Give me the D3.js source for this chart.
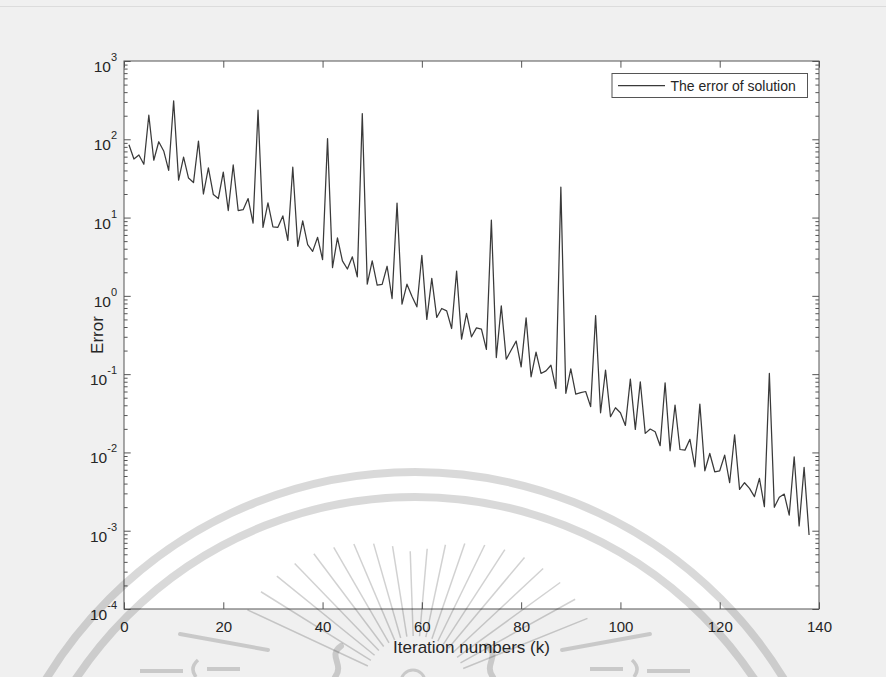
<!DOCTYPE html>
<html>
<head>
<meta charset="utf-8">
<script src="https://cdn.jsdelivr.net/npm/d3@7"></script>
<style>
html, body { margin: 0; padding: 0; background: #f0f0f0; }
svg { display: block; font-family: "Liberation Sans", Arial, Helvetica, sans-serif; }
</style>
</head>
<body>
<svg id="chart" width="886" height="677"></svg>
<script>
// Error of the solution at each iteration k = 1..138
const errors = [
  85, 56, 63, 48, 203, 54, 93, 71, 40, 310,
  30, 59, 32, 28, 95, 20, 43, 19.7, 17.5, 38,
  12.3, 47, 12.3, 12.6, 17.5, 8.5, 235, 7.5, 15.4, 7.6,
  7.5, 10.5, 5.1, 44, 4.3, 9.1, 4.5, 3.7, 5.6, 2.9,
  102, 2.3, 5.5, 2.8, 2.2, 3.15, 1.75, 213, 1.41, 2.8,
  1.37, 1.40, 2.39, 0.925, 15.3, 0.783, 1.41, 0.99, 0.724, 3.3,
  0.50, 1.67, 0.53, 0.69, 0.644, 0.383, 2.07, 0.28, 0.596, 0.30,
  0.39, 0.376, 0.207, 9.3, 0.163, 0.746, 0.155, 0.203, 0.264, 0.124,
  0.524, 0.0925, 0.191, 0.102, 0.110, 0.130, 0.0657, 24.5, 0.057, 0.117,
  0.0556, 0.058, 0.060, 0.0385, 0.56, 0.0321, 0.1125, 0.0286, 0.0372, 0.0321,
  0.0221, 0.0863, 0.0197, 0.0798, 0.0175, 0.0199, 0.0184, 0.0122, 0.0776, 0.0105,
  0.0403, 0.0109, 0.0107, 0.0147, 0.00656, 0.0414, 0.00583, 0.0097, 0.00566, 0.00583,
  0.00925, 0.0041, 0.0168, 0.00337, 0.0041, 0.00347, 0.00272, 0.00466, 0.00203, 0.102,
  0.00199, 0.00267, 0.00294, 0.00158, 0.0088, 0.00115, 0.00644, 0.00088
];
const iterations = errors.map((_, i) => i + 1);

const xTicks = [0, 20, 40, 60, 80, 100, 120, 140];
const yExponents = [-4, -3, -2, -1, 0, 1, 2, 3];
const seriesName = "The error of solution";
const xTitle = "Iteration numbers (k)";
const yTitle = "Error";

const W = 886, H = 677;
const plot = { left: 124, right: 819, top: 61, bottom: 609 };
const ink = "#262626";
const axisColor = "#555";

const svg = d3.select("#chart");

const x = d3.scaleLinear().domain([0, 140]).range([plot.left, plot.right]);
const y = d3.scaleLog().domain([1e-4, 1e3]).range([plot.bottom, plot.top]);

// page and axes background
svg.append("rect").attr("width", W).attr("height", H).attr("fill", "#f0f0f0");
svg.append("line").attr("x1", 0).attr("x2", W).attr("y1", 6.5).attr("y2", 6.5)
  .attr("stroke", "#dcdcdc").attr("stroke-width", 1);
svg.append("rect")
  .attr("x", plot.left).attr("y", plot.top)
  .attr("width", plot.right - plot.left).attr("height", plot.bottom - plot.top)
  .attr("fill", "#ffffff");

// tick sets
const majorY = yExponents.map(e => Math.pow(10, e));
const minorY = y.ticks().filter(v => !majorY.some(m => Math.abs(Math.log10(v) - Math.log10(m)) < 1e-9));

function styleAxis(g) {
  g.select(".domain").remove();
  g.selectAll(".tick line").attr("stroke", axisColor).attr("stroke-width", 1);
  g.selectAll(".tick text").attr("fill", ink).attr("font-size", 15);
}

// bottom axis with labels, top axis ticks only
svg.append("g").attr("transform", `translate(0,${plot.bottom})`)
  .call(d3.axisBottom(x).tickValues(xTicks).tickSize(-6.7).tickPadding(12.4))
  .call(styleAxis);
svg.append("g").attr("transform", `translate(0,${plot.top})`)
  .call(d3.axisTop(x).tickValues(xTicks).tickSize(-6.7).tickFormat(""))
  .call(styleAxis);

// left and right log axes: major and minor ticks
[["left", plot.left, d3.axisLeft], ["right", plot.right, d3.axisRight]].forEach(([side, pos, make]) => {
  svg.append("g").attr("transform", `translate(${pos},0)`)
    .call(make(y).tickValues(majorY).tickSize(-6.7).tickFormat(""))
    .call(styleAxis);
  svg.append("g").attr("transform", `translate(${pos},0)`)
    .call(make(y).tickValues(minorY).tickSize(-3.6).tickFormat(""))
    .call(styleAxis);
});

// power-of-ten labels
const yLab = svg.append("g").attr("fill", ink);
yExponents.forEach(e => {
  const t = yLab.append("text")
    .attr("x", plot.left - 7)
    .attr("y", y(Math.pow(10, e)) + 11)
    .attr("text-anchor", "end");
  t.append("tspan").attr("font-size", 15.5).text("10");
  t.append("tspan").attr("font-size", 11).attr("dy", -11).text(String(e));
});

// the error curve
const points = iterations.map((k, i) => ({ k, v: errors[i] }));
svg.append("path")
  .datum(points)
  .attr("fill", "none")
  .attr("stroke", "#3a3a3a")
  .attr("stroke-width", 1.25)
  .attr("stroke-linejoin", "round")
  .attr("d", d3.line().x(d => x(d.k)).y(d => y(d.v)));

// axes box
svg.append("rect")
  .attr("x", plot.left).attr("y", plot.top)
  .attr("width", plot.right - plot.left).attr("height", plot.bottom - plot.top)
  .attr("fill", "none").attr("stroke", axisColor).attr("stroke-width", 1);

// axis titles
svg.append("text")
  .attr("x", (plot.left + plot.right) / 2).attr("y", 652.5)
  .attr("text-anchor", "middle").attr("font-size", 17).attr("fill", ink)
  .text(xTitle);
svg.append("text")
  .attr("transform", `translate(103,${(plot.top + plot.bottom) / 2}) rotate(-90)`)
  .attr("text-anchor", "middle").attr("font-size", 17).attr("fill", ink)
  .text(yTitle);

// legend
const lg = svg.append("g");
lg.append("rect").attr("x", 612).attr("y", 73.5).attr("width", 195.5).attr("height", 24)
  .attr("fill", "#fff").attr("stroke", "#555").attr("stroke-width", 1);
lg.append("line").attr("x1", 618).attr("x2", 665).attr("y1", 85.5).attr("y2", 85.5)
  .attr("stroke", "#3a3a3a").attr("stroke-width", 1.25);
lg.append("text").attr("x", 670.5).attr("y", 90.5).attr("font-size", 14).attr("fill", ink)
  .text(seriesName);

// background emblem, drawn faintly over the page
const em = svg.append("g").attr("pointer-events", "none");
const cx = 415, cy = 904;
[432, 407].forEach(r => {
  em.append("circle").attr("cx", cx).attr("cy", cy).attr("r", r)
    .attr("fill", "none").attr("stroke", "rgba(0,0,0,0.15)").attr("stroke-width", 8);
});
const rc = { x: 415, y: 688 };
const rayAngles = d3.range(22, 159, 7);
rayAngles.forEach(a => {
  const rad = a * Math.PI / 180;
  const side = Math.abs(Math.cos(rad));
  const r0 = 52, r1 = 135 + 55 * side;
  em.append("line")
    .attr("x1", rc.x + r0 * Math.cos(rad)).attr("y1", rc.y - r0 * Math.sin(rad))
    .attr("x2", rc.x + r1 * Math.cos(rad)).attr("y2", rc.y - r1 * Math.sin(rad))
    .attr("stroke", "rgba(0,0,0,0.18)").attr("stroke-width", 1.5);
});
// lower ornaments
const orn = "rgba(0,0,0,0.16)";
[[180, 634, 268, 650], [650, 634, 562, 650]].forEach(([x1, y1, x2, y2]) => {
  em.append("line").attr("x1", x1).attr("y1", y1).attr("x2", x2).attr("y2", y2)
    .attr("stroke", orn).attr("stroke-width", 4).attr("stroke-linecap", "round");
});
[[140, 183, 671], [207, 240, 669], [590, 623, 669], [647, 690, 671]].forEach(([x1, x2, yy]) => {
  em.append("line").attr("x1", x1).attr("x2", x2).attr("y1", yy).attr("y2", yy)
    .attr("stroke", orn).attr("stroke-width", 4);
});
em.append("circle").attr("cx", 413).attr("cy", 682).attr("r", 12)
  .attr("fill", "none").attr("stroke", orn).attr("stroke-width", 3);
[[335, 1], [493, -1]].forEach(([fx, s]) => {
  em.append("path")
    .attr("d", `M${fx + 6 * s},${646} C${fx - 8 * s},${656} ${fx + 10 * s},${664} ${fx},${677}`)
    .attr("fill", "none").attr("stroke", orn).attr("stroke-width", 6).attr("stroke-linecap", "round");
});
[[193, 1], [637, -1]].forEach(([bx, s]) => {
  em.append("path")
    .attr("d", `M${bx + 5 * s},${660} Q${bx - 4 * s},${668} ${bx + 3 * s},${677}`)
    .attr("fill", "none").attr("stroke", orn).attr("stroke-width", 3.5);
});
</script>
</body>
</html>
